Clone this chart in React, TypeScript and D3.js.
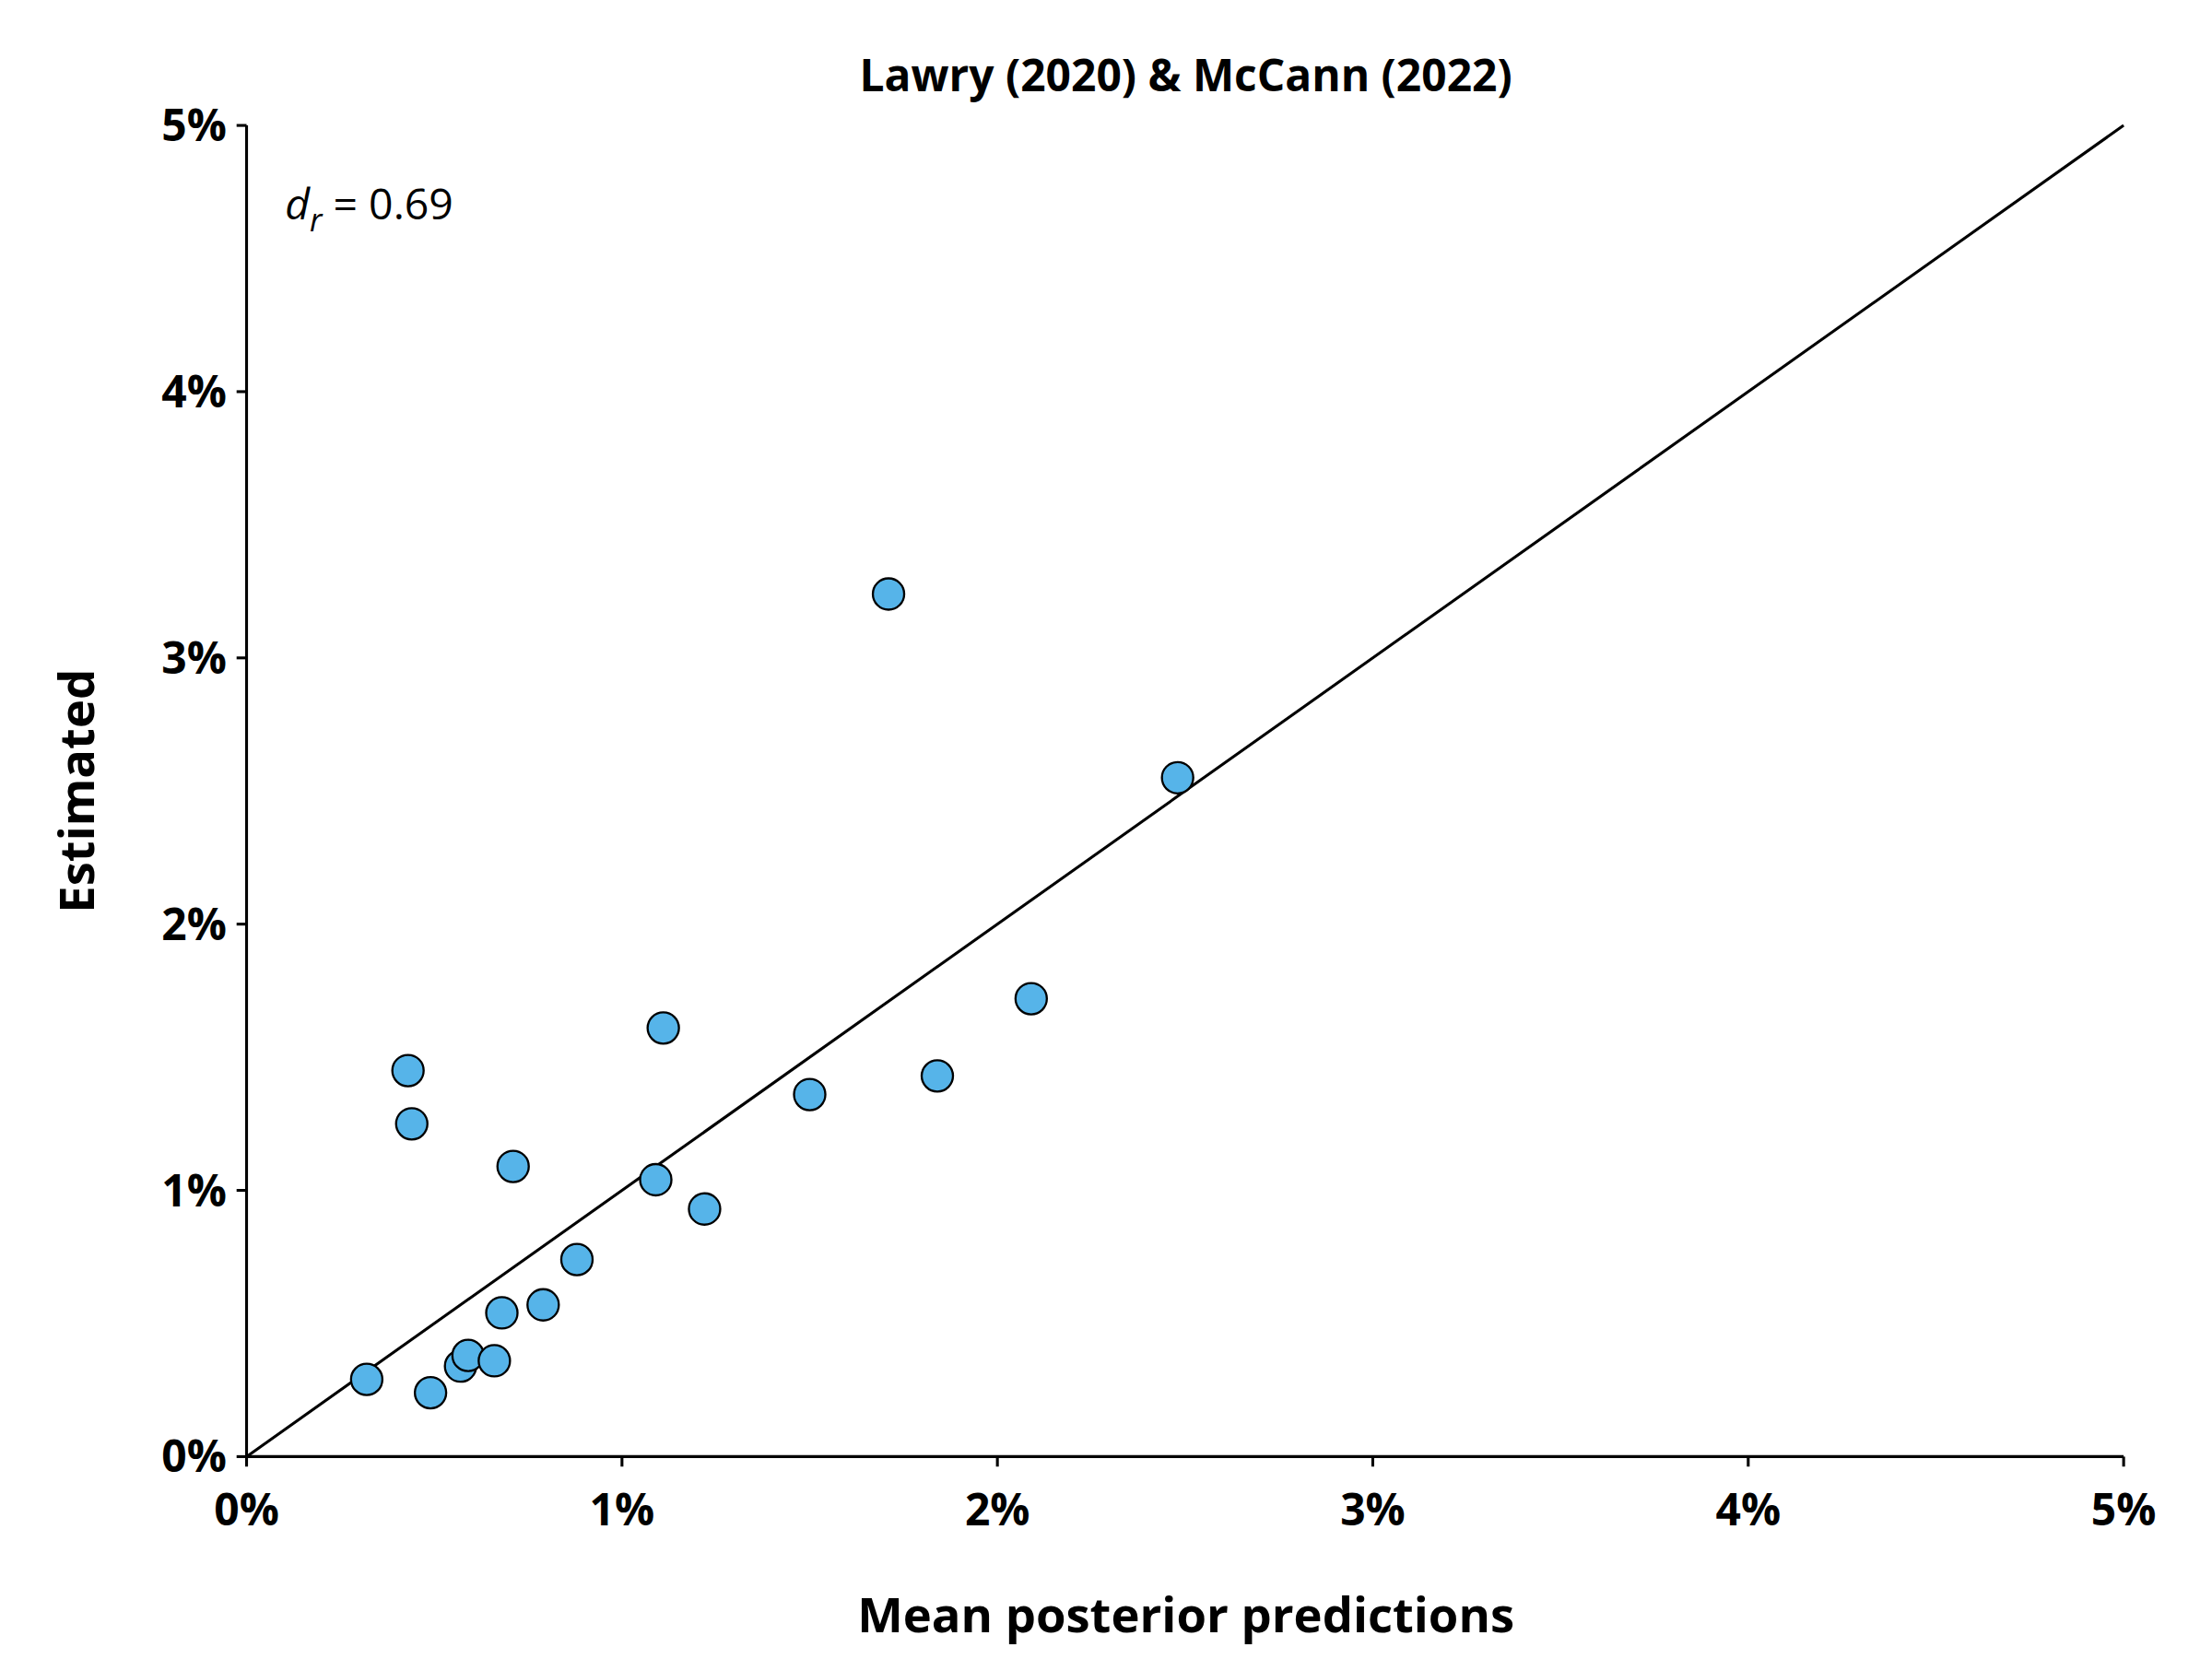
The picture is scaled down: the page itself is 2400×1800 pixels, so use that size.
import * as d3 from 'd3';
import React from 'react';

const predicted = [0.32, 0.49, 0.57, 0.59, 0.66, 0.68, 0.79, 0.88, 0.43, 0.44, 0.71, 1.09, 1.11, 1.22, 1.5, 1.71, 1.84, 2.09, 2.48];
const estimated = [0.29, 0.24, 0.34, 0.38, 0.36, 0.54, 0.57, 0.74, 1.45, 1.25, 1.09, 1.04, 1.61, 0.93, 1.36, 3.24, 1.43, 1.72, 2.55];
const ticks = [0, 1, 2, 3, 4, 5];

export default function App() {
  const W = 1552, H = 1164;
  const x = d3.scaleLinear().domain([0, 5]).range([173, 1490]);
  const y = d3.scaleLinear().domain([0, 5]).range([1022, 88]);
  const font = "'Open Sans', sans-serif";
  return (
    <svg width={2400} height={1800} viewBox={`0 0 ${W} ${H}`}
      style={{ position: 'absolute', left: 0, top: 0, background: '#fff' }} fontFamily={font}>
      <text x={832} y={64} textAnchor="middle" fontSize={31} fontWeight="bold">Lawry (2020) &amp; McCann (2022)</text>
      <line x1={x(0)} x2={x(5)} y1={y(0)} y2={y(0)} stroke="#000" strokeWidth={2} />
      <line x1={x(0)} x2={x(0)} y1={y(0)} y2={y(5)} stroke="#000" strokeWidth={2} />
      {ticks.map(t => (
        <g key={t}>
          <line x1={x(t)} x2={x(t)} y1={y(0)} y2={y(0) + 7} stroke="#000" strokeWidth={2} />
          <text x={x(t)} y={y(0) + 48} textAnchor="middle" fontSize={31} fontWeight="bold">{t}%</text>
          <line x1={x(0) - 7} x2={x(0)} y1={y(t)} y2={y(t)} stroke="#000" strokeWidth={2} />
          <text x={x(0) - 14} y={y(t) + 11} textAnchor="end" fontSize={31} fontWeight="bold">{t}%</text>
        </g>
      ))}
      <line x1={x(0)} y1={y(0)} x2={x(5)} y2={y(5)} stroke="#000" strokeWidth={2} />
      <text x={200} y={154} fontSize={30}>
        <tspan fontStyle="italic">d</tspan>
        <tspan fontStyle="italic" fontSize={22} dy={8}>r</tspan>
        <tspan dy={-8}> = 0.69</tspan>
      </text>
      {predicted.map((p, i) => (
        <circle key={i} cx={x(p)} cy={y(estimated[i])} r={11} fill="#56b4e9" stroke="#000" strokeWidth={1.5} />
      ))}
      <text x={832} y={1145} textAnchor="middle" fontSize={34} fontWeight="bold">Mean posterior predictions</text>
      <text transform="translate(66,555) rotate(-90)" textAnchor="middle" fontSize={34} fontWeight="bold">Estimated</text>
    </svg>
  );
}
